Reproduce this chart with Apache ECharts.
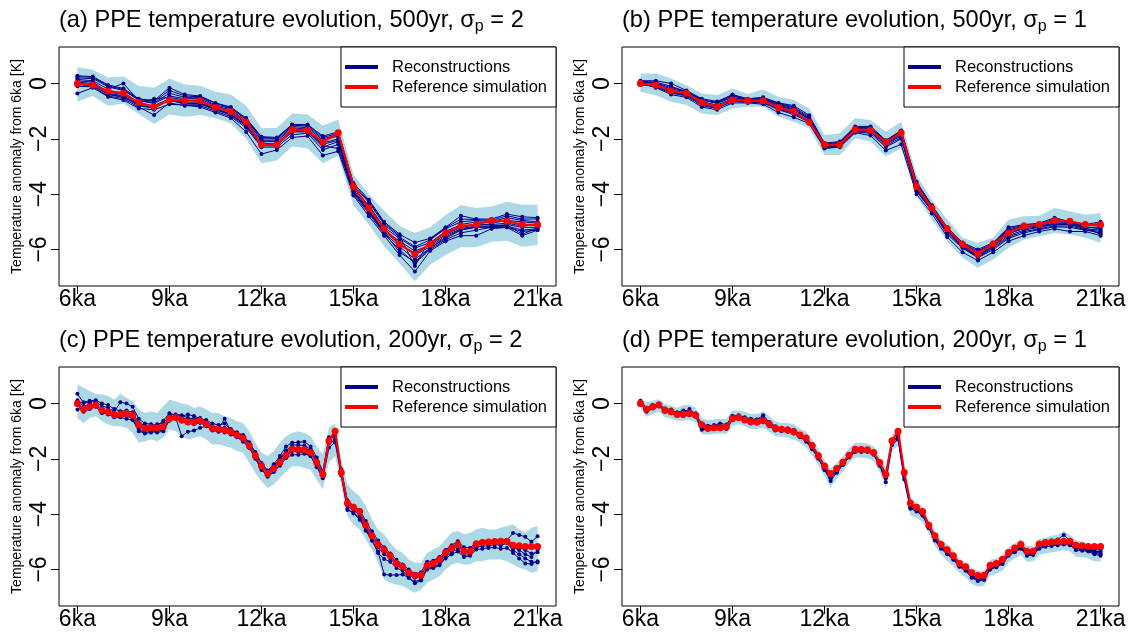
<!DOCTYPE html>
<html>
<head>
<meta charset="utf-8">
<title>PPE temperature evolution</title>
<script src="https://cdn.jsdelivr.net/npm/echarts@6/dist/echarts.min.js"></script>
<style>
  html, body { margin: 0; padding: 0; background: #fff; }
  #chart { width: 1132px; height: 633px; }
</style>
</head>
<body>
<div id="chart"></div>
<script>
// ---- time axes (ka before present) ----
const years500 = [6, 6.5, 7, 7.5, 8, 8.5, 9, 9.5, 10, 10.5, 11, 11.5, 12, 12.5, 13, 13.5, 14, 14.5, 15, 15.5, 16, 16.5, 17, 17.5, 18, 18.5, 19, 19.5, 20, 20.5, 21];
const years200 = [6, 6.2, 6.4, 6.6, 6.8, 7, 7.2, 7.4, 7.6, 7.8, 8, 8.2, 8.4, 8.6, 8.8, 9, 9.2, 9.4, 9.6, 9.8,
  10, 10.2, 10.4, 10.6, 10.8, 11, 11.2, 11.4, 11.6, 11.8, 12, 12.2, 12.4, 12.6, 12.8, 13, 13.2, 13.4, 13.6, 13.8,
  14, 14.2, 14.4, 14.6, 14.8, 15, 15.2, 15.4, 15.6, 15.8, 16, 16.2, 16.4, 16.6, 16.8, 17, 17.2, 17.4, 17.6, 17.8,
  18, 18.2, 18.4, 18.6, 18.8, 19, 19.2, 19.4, 19.6, 19.8, 20, 20.2, 20.4, 20.6, 20.8, 21];

// ---- axis ticks ----
const xTicks = [6, 9, 12, 15, 18, 21];
const yTicks = [-6, -4, -2, 0];

// ---- reference simulation (anomaly from 6ka, K) ----
const refSim500 = [0, -0.06, -0.27, -0.35, -0.69, -0.84, -0.6, -0.62, -0.62, -0.87, -1.01, -1.39, -2.21, -2.21, -1.66, -1.69,
  -2.12, -1.78, -3.72, -4.5, -5.25, -5.81, -6.16, -5.8, -5.4, -5.15, -5.1, -4.95, -4.98, -5.1, -5.11];
const refSim200 = [0, -0.21, -0.12, -0.05, -0.24, -0.3, -0.4, -0.39, -0.36, -0.42,
  -0.77, -0.89, -0.88, -0.88, -0.84, -0.54, -0.51, -0.6, -0.66, -0.67,
  -0.62, -0.74, -0.89, -0.93, -0.96, -1.02, -1.14, -1.25, -1.52, -1.89,
  -2.26, -2.53, -2.35, -2.12, -1.87, -1.65, -1.66, -1.67, -1.77, -2.13,
  -2.57, -1.35, -1.0, -2.49, -3.61, -3.75, -3.9, -4.4, -4.78, -5.1,
  -5.29, -5.5, -5.78, -5.9, -6.12, -6.22, -6.21, -5.85, -5.78, -5.64,
  -5.39, -5.22, -5.1, -5.34, -5.34, -5.08, -5.02, -5.01, -4.99, -4.98,
  -4.98, -5.12, -5.14, -5.17, -5.17, -5.17];

// ---- (a) 500yr, sigma_p = 2 ----
const reconA1 = [0.28, 0.25, -0.05, -0.18, -0.55, -0.62, -0.15, -0.4, -0.45, -0.7, -0.85, -1.25, -1.92, -1.95, -1.48, -1.48, -1.9, -1.75, -3.6, -4.2, -5.0, -5.45, -5.75, -5.6, -5.2, -4.78, -4.9, -4.9, -4.72, -4.82, -4.85];
const reconA2 = [0.2, 0.18, -0.12, -0.25, -0.6, -0.7, -0.35, -0.5, -0.5, -0.78, -0.9, -1.3, -2.0, -2.0, -1.5, -1.55, -2.0, -1.85, -3.7, -4.3, -5.1, -5.55, -5.9, -5.65, -5.25, -5.0, -4.95, -5.0, -4.85, -4.95, -5.0];
const reconA3 = [0.15, 0.1, -0.2, 0.0, -0.62, -0.72, -0.45, -0.55, -0.55, -0.82, -0.95, -1.35, -2.05, -2.05, -1.55, -1.6, -2.05, -1.9, -3.8, -4.4, -5.2, -5.6, -5.95, -5.75, -5.35, -5.1, -5.0, -5.05, -4.95, -5.0, -5.05];
const reconA4 = [0.1, 0.05, -0.3, -0.4, -0.7, -0.55, -0.5, -0.6, -0.65, -0.85, -1.05, -1.45, -2.1, -2.1, -1.6, -1.65, -2.15, -2.0, -3.85, -4.55, -5.3, -5.7, -6.05, -5.85, -5.45, -5.2, -5.1, -5.1, -5.05, -5.15, -5.1];
const reconA5 = [0.05, 0.0, -0.35, -0.45, -0.75, -0.8, -0.55, -0.7, -0.7, -0.9, -1.1, -1.5, -2.15, -2.2, -1.7, -1.7, -2.2, -2.05, -3.9, -4.6, -5.35, -5.8, -6.2, -5.9, -5.5, -5.25, -5.15, -5.15, -5.1, -5.2, -5.2];
const reconA6 = [-0.05, -0.05, -0.4, -0.5, -0.8, -0.9, -0.6, -0.75, -0.75, -0.95, -1.15, -1.55, -2.25, -2.25, -1.75, -1.75, -2.3, -2.1, -3.95, -4.65, -5.4, -5.9, -6.35, -5.95, -5.6, -5.3, -5.2, -5.2, -5.15, -5.3, -5.25];
const reconA7 = [-0.1, -0.12, -0.45, -0.55, -0.85, -1.14, -0.7, -0.8, -0.8, -1.0, -1.2, -1.6, -2.3, -2.3, -1.85, -1.8, -2.4, -2.2, -4.0, -4.7, -5.45, -6.0, -6.5, -6.0, -5.65, -5.4, -5.3, -5.2, -5.2, -5.35, -5.3];
const reconA8 = [-0.36, -0.15, -0.48, -0.6, -0.9, -0.95, -0.75, -0.78, -0.85, -1.05, -1.25, -1.75, -2.55, -2.4, -1.95, -1.9, -2.6, -2.45, -4.05, -4.8, -5.5, -6.2, -6.8, -6.05, -5.7, -5.5, -5.5, -5.25, -5.2, -5.5, -5.3];
const reconA9 = [0.25, 0.22, -0.08, -0.22, -0.58, -0.65, -0.25, -0.45, -0.48, -0.72, -0.88, -1.28, -1.95, -1.98, -1.5, -1.5, -1.95, -1.8, -3.65, -4.25, -5.05, -5.5, -6.6, -5.62, -5.22, -4.9, -4.92, -4.95, -4.78, -4.9, -4.9];
const reconA10 = [0.0, -0.1, -0.38, -0.48, -0.78, -0.88, -0.58, -0.72, -0.72, -0.92, -1.12, -1.52, -2.18, -2.18, -1.72, -1.72, -2.25, -2.35, -3.92, -4.62, -5.38, -6.1, -6.45, -5.95, -5.55, -5.28, -5.18, -5.18, -5.12, -5.45, -5.22];
const bandUpperA = [0.6, 0.5, 0.22, 0.25, -0.08, -0.15, 0.18, -0.04, -0.08, -0.3, -0.4, -0.8, -1.62, -1.6, -1.08, -1.12, -1.52, -1.3, -3.3, -4.0, -4.6, -5.15, -5.4, -5.2, -4.75, -4.4, -4.5, -4.45, -4.27, -4.38, -4.38];
const bandLowerA = [-0.66, -0.45, -0.8, -0.72, -1.1, -1.46, -1.12, -1.2, -1.14, -1.26, -1.44, -2.0, -2.88, -2.78, -2.28, -2.34, -2.88, -2.62, -4.4, -5.1, -5.88, -6.5, -7.15, -6.55, -6.2, -5.92, -5.92, -5.72, -5.68, -5.9, -5.84];

// ---- (b) 500yr, sigma_p = 1 ----
const reconB1 = [0.1, 0.1, 0.0, -0.25, -0.55, -0.65, -0.4, -0.55, -0.5, -0.7, -0.8, -1.15, -2.15, -2.1, -1.55, -1.55, -2.05, -1.7, -3.55, -4.4, -5.2, -5.75, -6.0, -5.75, -5.2, -5.1, -5.05, -4.85, -5.0, -5.1, -5.0];
const reconB2 = [0.05, 0.0, -0.2, -0.3, -0.6, -0.7, -0.45, -0.58, -0.55, -0.75, -0.88, -1.25, -2.18, -2.15, -1.6, -1.6, -2.1, -1.75, -3.65, -4.45, -5.25, -5.8, -6.1, -5.8, -5.3, -5.15, -5.1, -4.95, -4.98, -5.15, -5.05];
const reconB3 = [0.0, -0.05, -0.25, -0.35, -0.65, -0.78, -0.55, -0.6, -0.62, -0.82, -0.95, -1.3, -2.22, -2.2, -1.65, -1.68, -2.15, -1.82, -3.75, -4.5, -5.3, -5.85, -6.2, -5.85, -5.45, -5.2, -5.15, -5.05, -5.05, -5.2, -5.2];
const reconB4 = [-0.05, -0.1, -0.3, -0.4, -0.72, -0.85, -0.6, -0.65, -0.65, -0.88, -1.05, -1.35, -2.28, -2.25, -1.7, -1.72, -2.2, -1.9, -3.85, -4.55, -5.35, -5.9, -6.25, -5.9, -5.5, -5.3, -5.2, -5.1, -5.1, -5.25, -5.3];
const reconB5 = [-0.02, -0.12, -0.35, -0.45, -0.8, -0.9, -0.65, -0.68, -0.7, -0.95, -1.12, -1.4, -2.32, -2.28, -1.75, -1.8, -2.3, -2.0, -3.9, -4.6, -5.45, -5.95, -6.3, -6.0, -5.6, -5.4, -5.28, -5.18, -5.2, -5.3, -5.4];
const reconB6 = [0.02, -0.15, -0.4, -0.5, -0.85, -0.95, -0.7, -0.7, -0.75, -1.05, -1.22, -1.45, -2.35, -2.3, -1.78, -1.88, -2.42, -2.2, -4.0, -4.7, -5.55, -6.1, -6.4, -6.1, -5.7, -5.5, -5.35, -5.25, -5.35, -5.35, -5.5];
const reconB7 = [0.05, 0.02, -0.15, -0.28, -0.6, -0.68, -0.42, -0.56, -0.52, -0.72, -0.85, -1.2, -2.2, -2.12, -1.58, -1.58, -2.08, -1.72, -3.6, -4.42, -5.22, -5.78, -6.05, -5.78, -5.25, -5.12, -5.08, -4.9, -5.0, -5.12, -5.15];
const reconB8 = [-0.04, -0.08, -0.32, -0.42, -0.75, -0.88, -0.62, -0.66, -0.68, -0.92, -1.08, -1.38, -2.3, -2.25, -1.72, -1.75, -2.25, -1.95, -3.88, -4.58, -5.4, -5.92, -6.28, -5.95, -5.55, -5.35, -5.25, -5.15, -5.15, -5.28, -5.35];
const reconB9 = [0.08, 0.05, -0.1, -0.3, -0.58, -0.72, -0.5, -0.6, -0.58, -0.78, -0.92, -1.28, -2.2, -2.18, -1.62, -1.62, -2.12, -1.8, -3.7, -4.48, -5.28, -5.82, -6.12, -5.82, -5.35, -5.18, -5.12, -5.0, -5.02, -5.18, -5.25];
const reconB10 = [0.0, -0.06, -0.28, -0.38, -0.7, -0.82, -0.58, -0.63, -0.6, -0.85, -1.0, -1.35, -2.25, -2.22, -1.68, -1.7, -2.18, -1.85, -3.8, -4.52, -5.32, -5.88, -6.22, -5.88, -5.42, -5.25, -5.18, -5.08, -5.08, -5.22, -5.45];
const bandUpperB = [0.36, 0.36, 0.18, -0.06, -0.36, -0.42, -0.18, -0.38, -0.22, -0.48, -0.6, -0.9, -1.86, -1.8, -1.26, -1.32, -1.74, -1.38, -3.3, -4.2, -4.92, -5.58, -5.76, -5.58, -4.92, -4.8, -4.78, -4.5, -4.62, -4.74, -4.68];
const bandLowerB = [-0.3, -0.42, -0.66, -0.78, -1.08, -1.14, -0.9, -0.84, -0.84, -1.2, -1.38, -1.62, -2.58, -2.58, -1.98, -2.1, -2.64, -2.34, -4.08, -4.92, -5.7, -6.3, -6.66, -6.36, -5.94, -5.64, -5.52, -5.4, -5.46, -5.58, -5.76];

// ---- (c) 200yr, sigma_p = 2 ----
const reconC1 = [0.35, 0.02, 0.05, 0.08, -0.1, -0.15, -0.3, 0.05, 0.0, -0.12,
  -0.55, -0.72, -0.75, -0.8, -0.62, -0.35, -0.42, -0.45, -0.4, -0.45,
  -0.55, -0.6, -0.72, -0.78, -0.72, -0.95, -1.05, -1.15, -1.4, -1.75,
  -2.15, -2.42, -2.2, -1.9, -1.55, -1.42, -1.4, -1.38, -1.55, -1.95,
  -2.45, -1.22, -1.15, -2.38, -3.5, -3.7, -3.85, -4.25, -4.62, -4.95,
  -5.2, -5.42, -5.65, -5.82, -6.0, -6.15, -6.1, -5.72, -5.68, -5.55,
  -5.3, -5.12, -4.98, -5.2, -5.22, -5.02, -4.98, -4.96, -4.95, -4.95,
  -4.95, -4.68, -4.75, -4.82, -5.0, -4.8];
const reconC2 = [0.12, -0.12, 0.0, -0.1, -0.2, -0.28, -0.35, -0.45, -0.4, -0.5,
  -0.85, -0.95, -0.98, -0.95, -0.9, -0.45, -0.5, -1.18, -1.02, -0.98,
  -0.88, -0.82, -0.95, -1.0, -1.05, -1.08, -1.2, -1.3, -1.6, -1.95,
  -2.35, -2.65, -2.48, -2.2, -1.92, -1.72, -1.75, -1.78, -1.9, -2.25,
  -2.65, -1.45, -1.3, -2.55, -3.85, -3.95, -4.2, -4.55, -4.95, -5.35,
  -6.18, -6.2, -6.2, -6.18, -6.3, -6.45, -6.35, -5.95, -5.92, -5.82,
  -5.55, -5.38, -5.25, -5.5, -5.45, -5.2, -5.15, -5.15, -5.1, -5.12,
  -5.05, -5.3, -5.45, -5.6, -5.72, -5.75];
const reconC3 = [-0.05, -0.3, -0.2, -0.12, -0.35, -0.38, -0.5, -0.48, -0.45, -0.55,
  -0.95, -1.05, -1.0, -1.05, -1.0, -0.62, -0.55, -0.65, -0.72, -0.75,
  -0.7, -0.8, -0.98, -1.02, -1.0, -1.12, -1.22, -1.38, -1.6, -2.0,
  -2.4, -2.62, -2.45, -2.25, -1.98, -1.85, -1.85, -1.82, -1.9, -2.3,
  -2.7, -1.6, -1.4, -2.6, -3.8, -3.98, -4.1, -4.6, -4.95, -5.4,
  -5.62, -5.72, -5.95, -6.05, -6.3, -6.5, -6.4, -6.0, -5.95, -5.85,
  -5.6, -5.45, -5.35, -5.55, -5.5, -5.28, -5.25, -5.22, -5.2, -5.25,
  -5.22, -5.4, -5.6, -5.78, -5.8, -5.7];
const reconC4 = [-0.22, -0.15, -0.18, 0.05, -0.3, -0.4, -0.45, -0.5, -0.55, -0.6,
  -1.0, -1.08, -1.05, -1.0, -0.95, -0.55, -0.48, -0.5, -0.58, -0.6,
  -0.6, -0.72, -0.85, -0.9, -0.55, -1.0, -1.1, -1.2, -1.48, -1.82,
  -2.28, -2.5, -2.3, -2.05, -1.75, -1.58, -1.6, -1.62, -1.7, -2.1,
  -2.6, -1.3, -1.2, -2.45, -3.7, -3.85, -4.0, -4.5, -4.85, -5.2,
  -5.45, -5.6, -5.85, -5.95, -6.2, -6.3, -6.25, -5.85, -5.8, -5.72,
  -5.45, -5.28, -5.15, -5.38, -5.4, -5.12, -5.08, -5.05, -5.05, -5.02,
  -5.0, -5.2, -5.3, -5.45, -5.55, -5.3];
const reconC5 = [0.02, 0.05, 0.1, 0.12, 0.0, -0.05, -0.2, -0.28, -0.25, -0.32,
  -0.7, -0.8, -0.82, -0.75, -0.72, -0.42, -0.4, -0.42, -0.52, -0.55,
  -0.52, -0.65, -0.82, -0.85, -0.88, -0.92, -1.05, -1.15, -1.45, -1.8,
  -2.2, -2.45, -2.25, -2.0, -1.7, -1.5, -1.5, -1.52, -1.65, -2.05,
  -2.5, -1.25, -1.05, -2.4, -3.55, -3.78, -3.92, -4.35, -4.72, -5.05,
  -5.3, -5.5, -5.75, -5.88, -6.08, -6.2, -6.18, -5.82, -5.75, -5.62,
  -5.38, -5.2, -5.05, -5.28, -5.3, -5.05, -5.0, -5.0, -4.98, -4.98,
  -4.98, -5.15, -5.2, -5.3, -5.42, -5.38];
const bandUpperC = [0.69, 0.57, 0.45, 0.35, 0.33, 0.27, 0.14, 0.36, 0.2, 0.08,
  -0.22, -0.34, -0.28, -0.34, -0.1, 0.14, 0.08, 0.0, -0.04, -0.16,
  -0.1, -0.22, -0.34, -0.34, -0.46, -0.52, -0.64, -0.7, -1.0, -1.42,
  -1.78, -1.9, -1.72, -1.42, -1.18, -1.06, -1.0, -1.06, -1.18, -1.54,
  -1.84, -0.88, -0.72, -2.02, -2.93, -3.17, -3.35, -3.71, -4.19, -4.55,
  -4.73, -5.04, -5.28, -5.4, -5.64, -5.76, -5.76, -5.4, -5.28, -5.16,
  -4.92, -4.67, -4.61, -4.73, -4.67, -4.55, -4.49, -4.55, -4.55, -4.49,
  -4.43, -4.37, -4.55, -4.67, -4.49, -4.43];
const bandLowerC = [-0.52, -0.7, -0.52, -0.46, -0.64, -0.76, -0.82, -0.82, -0.88, -1.06,
  -1.42, -1.36, -1.3, -1.36, -1.24, -0.94, -1.0, -1.18, -1.3, -1.24,
  -1.18, -1.3, -1.48, -1.48, -1.54, -1.6, -1.72, -1.78, -2.14, -2.51,
  -2.81, -3.05, -2.93, -2.69, -2.45, -2.27, -2.27, -2.33, -2.39, -2.75,
  -3.11, -2.14, -1.9, -2.99, -4.07, -4.37, -4.55, -4.92, -5.28, -5.76,
  -6.36, -6.48, -6.54, -6.6, -6.72, -6.84, -6.72, -6.48, -6.36, -6.24,
  -6.0, -5.82, -5.76, -5.82, -5.82, -5.7, -5.7, -5.64, -5.64, -5.64,
  -5.7, -5.82, -5.94, -6.0, -6.12, -6.06];

// ---- (d) 200yr, sigma_p = 1 ----
const reconD1 = [0.1, -0.15, -0.1, 0.0, -0.18, -0.22, -0.35, -0.32, -0.2, -0.38,
  -0.72, -0.82, -0.8, -0.78, -0.8, -0.45, -0.48, -0.55, -0.6, -0.58,
  -0.42, -0.68, -0.85, -0.9, -0.9, -0.95, -1.1, -1.22, -1.5, -1.85,
  -2.3, -2.62, -2.4, -2.15, -1.85, -1.62, -1.62, -1.65, -1.75, -2.15,
  -2.62, -1.4, -1.2, -2.55, -3.62, -3.8, -3.95, -4.42, -4.82, -5.15,
  -5.32, -5.55, -5.82, -5.98, -6.2, -6.3, -6.28, -5.9, -5.82, -5.7,
  -5.42, -5.3, -5.15, -5.4, -5.4, -5.12, -5.05, -4.95, -4.92, -4.75,
  -4.95, -5.15, -5.2, -5.25, -5.3, -5.28];
const reconD2 = [0.02, -0.3, -0.18, -0.1, -0.3, -0.35, -0.42, -0.45, -0.42, -0.48,
  -0.95, -0.95, -0.92, -0.9, -0.92, -0.6, -0.55, -0.62, -0.72, -0.72,
  -0.68, -0.82, -0.98, -1.0, -1.02, -1.08, -1.22, -1.38, -1.65, -2.0,
  -2.4, -2.8, -2.5, -2.2, -1.95, -1.75, -1.75, -1.75, -1.85, -2.25,
  -2.85, -1.5, -1.3, -2.75, -3.8, -3.9, -4.05, -4.5, -4.95, -5.25,
  -5.45, -5.65, -5.9, -6.05, -6.3, -6.42, -6.38, -6.0, -5.92, -5.8,
  -5.5, -5.38, -5.25, -5.5, -5.48, -5.25, -5.18, -5.15, -5.12, -5.1,
  -5.12, -5.3, -5.32, -5.35, -5.45, -5.5];
const reconD3 = [-0.02, -0.22, -0.1, -0.02, -0.28, -0.28, -0.38, -0.3, -0.32, -0.4,
  -0.82, -0.85, -0.88, -0.82, -0.78, -0.5, -0.45, -0.58, -0.62, -0.64,
  -0.55, -0.72, -0.9, -0.95, -0.95, -1.0, -1.15, -1.3, -1.58, -1.95,
  -2.35, -2.7, -2.45, -2.18, -1.9, -1.7, -1.68, -1.7, -1.82, -2.2,
  -2.68, -1.45, -1.22, -2.6, -3.75, -3.85, -4.0, -4.48, -4.88, -5.2,
  -5.4, -5.6, -5.88, -6.0, -6.25, -6.35, -6.32, -5.95, -5.88, -5.75,
  -5.45, -5.32, -5.2, -5.45, -5.42, -5.18, -5.1, -5.08, -5.02, -5.0,
  -5.02, -5.22, -5.25, -5.3, -5.38, -5.4];
const reconD4 = [0.0, -0.25, -0.15, -0.08, -0.22, -0.32, -0.4, -0.42, -0.38, -0.45,
  -0.9, -0.9, -0.85, -0.88, -0.85, -0.52, -0.52, -0.6, -0.68, -0.7,
  -0.65, -0.78, -0.95, -0.98, -0.98, -1.05, -1.18, -1.32, -1.62, -1.98,
  -2.38, -2.68, -2.48, -2.22, -1.92, -1.72, -1.72, -1.72, -1.8, -2.22,
  -2.7, -1.5, -1.28, -2.65, -3.78, -3.88, -4.05, -4.5, -4.92, -5.22,
  -5.42, -5.62, -5.88, -6.02, -6.28, -6.38, -6.35, -5.98, -5.9, -5.78,
  -5.48, -5.35, -5.22, -5.48, -5.45, -5.22, -5.12, -5.1, -5.08, -5.05,
  -5.08, -5.3, -5.28, -5.32, -5.42, -5.45];
const reconD5 = [0.05, -0.18, -0.05, -0.02, -0.2, -0.25, -0.32, -0.25, -0.3, -0.35,
  -0.78, -0.8, -0.78, -0.72, -0.76, -0.45, -0.42, -0.5, -0.55, -0.58,
  -0.5, -0.68, -0.82, -0.9, -0.92, -0.98, -1.12, -1.25, -1.55, -1.9,
  -2.32, -2.58, -2.38, -2.12, -1.85, -1.65, -1.65, -1.68, -1.78, -2.18,
  -2.62, -1.42, -1.15, -2.55, -3.68, -3.8, -3.92, -4.45, -4.85, -5.18,
  -5.35, -5.58, -5.85, -5.98, -6.22, -6.32, -6.3, -5.92, -5.85, -5.72,
  -5.42, -5.3, -5.18, -5.42, -5.42, -5.15, -5.08, -5.05, -5.0, -4.98,
  -5.0, -5.18, -5.22, -5.28, -5.35, -5.35];
const bandUpperD = [0.2, 0.05, 0.1, 0.15, -0.02, -0.08, -0.15, -0.05, -0.05, -0.15,
  -0.52, -0.6, -0.58, -0.55, -0.55, -0.25, -0.25, -0.3, -0.38, -0.38,
  -0.28, -0.45, -0.65, -0.7, -0.7, -0.75, -0.9, -1.02, -1.3, -1.65,
  -2.05, -2.35, -2.15, -1.9, -1.62, -1.42, -1.42, -1.45, -1.55, -1.92,
  -2.35, -1.15, -0.85, -2.3, -3.42, -3.58, -3.7, -4.2, -4.6, -4.92,
  -5.1, -5.32, -5.6, -5.75, -5.95, -6.05, -6.05, -5.65, -5.6, -5.45,
  -5.2, -5.05, -4.9, -5.15, -5.15, -4.9, -4.85, -4.78, -4.75, -4.6,
  -4.75, -4.95, -5.0, -5.05, -5.1, -5.05];
const bandLowerD = [-0.15, -0.48, -0.38, -0.3, -0.5, -0.55, -0.62, -0.62, -0.6, -0.68,
  -1.12, -1.12, -1.1, -1.08, -1.1, -0.8, -0.75, -0.82, -0.92, -0.92,
  -0.88, -1.02, -1.18, -1.2, -1.22, -1.3, -1.42, -1.58, -1.88, -2.22,
  -2.62, -3.02, -2.72, -2.45, -2.15, -1.95, -1.95, -1.98, -2.08, -2.48,
  -3.05, -1.72, -1.52, -2.95, -4.05, -4.12, -4.28, -4.72, -5.15, -5.48,
  -5.68, -5.88, -6.12, -6.28, -6.52, -6.62, -6.6, -6.22, -6.15, -6.05,
  -5.75, -5.6, -5.48, -5.72, -5.7, -5.48, -5.42, -5.38, -5.35, -5.3,
  -5.35, -5.55, -5.55, -5.6, -5.7, -5.72];

// ---- drawing ----
const FONT = '"Liberation Sans", Arial, Helvetica, sans-serif';
const NAVY = '#00008B';
const RED = '#FF0000';
const BAND = '#ADD8E6';
const PLOT_W = 497, PLOT_H = 239, PAGE_W = 1132;

const panels = [
  { tag: '(a)', res: '500yr', sigma: '2', left: 59, top: 47, years: years500, ref: refSim500,
    recon: [reconA1, reconA2, reconA3, reconA4, reconA5, reconA6, reconA7, reconA8, reconA9, reconA10],
    upper: bandUpperA, lower: bandLowerA },
  { tag: '(b)', res: '500yr', sigma: '1', left: 622, top: 47, years: years500, ref: refSim500,
    recon: [reconB1, reconB2, reconB3, reconB4, reconB5, reconB6, reconB7, reconB8, reconB9, reconB10],
    upper: bandUpperB, lower: bandLowerB },
  { tag: '(c)', res: '200yr', sigma: '2', left: 59, top: 367, years: years200, ref: refSim200,
    recon: [reconC1, reconC2, reconC3, reconC4, reconC5],
    upper: bandUpperC, lower: bandLowerC },
  { tag: '(d)', res: '200yr', sigma: '1', left: 622, top: 367, years: years200, ref: refSim200,
    recon: [reconD1, reconD2, reconD3, reconD4, reconD5],
    upper: bandUpperD, lower: bandLowerD }
];

const pair = (xs, ys) => xs.map((x, k) => [x, ys[k]]);
const minus = v => (v < 0 ? '\u2212' + Math.abs(v) : String(v));

const option = {
  animation: false,
  backgroundColor: '#fff',
  title: [], grid: [], xAxis: [], yAxis: [], legend: [], series: []
};

panels.forEach((p, i) => {
  option.grid.push({
    left: p.left, top: p.top, width: PLOT_W, height: PLOT_H,
    show: true, borderColor: '#000', borderWidth: 1, backgroundColor: 'transparent'
  });

  option.title.push({
    text: '{m|' + p.tag + ' PPE temperature evolution, ' + p.res + ', \u03c3}{s|p}{m| = ' + p.sigma + '}',
    left: p.left, top: p.top - 42, padding: 0,
    textStyle: {
      fontWeight: 'normal',
      rich: {
        m: { fontSize: 23.6, fontFamily: FONT, fontWeight: 'normal', color: '#000', lineHeight: 30 },
        s: { fontSize: 16, fontFamily: FONT, fontWeight: 'normal', color: '#000', lineHeight: 14, verticalAlign: 'bottom' }
      }
    }
  });

  option.xAxis.push({
    type: 'value', gridIndex: i, min: 5.4, max: 21.6,
    axisLine: { show: false, onZero: false },
    splitLine: { show: false },
    axisTick: { show: true, customValues: xTicks, length: 8, lineStyle: { color: '#000', width: 1 } },
    axisLabel: {
      customValues: xTicks, formatter: v => v + 'ka', margin: 2,
      fontSize: 23, fontFamily: FONT, color: '#000'
    }
  });

  option.yAxis.push({
    type: 'value', gridIndex: i, min: -7.32, max: 1.32,
    name: 'Temperature anomaly from 6ka [K]', nameLocation: 'middle', nameGap: 35,
    nameTextStyle: { fontSize: 14, fontFamily: FONT, color: '#000' },
    axisLine: { show: false, onZero: false },
    splitLine: { show: false },
    axisTick: { show: true, customValues: yTicks, length: 8, lineStyle: { color: '#000', width: 1 } },
    axisLabel: {
      customValues: yTicks, formatter: minus, rotate: 90, margin: 8,
      fontSize: 23, fontFamily: FONT, color: '#000'
    }
  });

  option.legend.push({
    orient: 'vertical', right: PAGE_W - (p.left + PLOT_W), top: p.top,
    selectedMode: false,
    icon: 'rect', itemWidth: 33, itemHeight: 4, itemGap: 0,
    padding: [10, 9, 10, 4],
    borderColor: '#000', borderWidth: 1, borderRadius: 0, backgroundColor: '#fff',
    textStyle: { fontSize: 16.5, fontFamily: FONT, color: '#000', lineHeight: 20, padding: [0, 0, 0, 9] },
    data: [
      { name: 'Reconstructions', itemStyle: { color: NAVY } },
      { name: 'Reference simulation', itemStyle: { color: RED } }
    ],
    z: 10
  });

  // uncertainty band as one polygon: upper edge forward, lower edge back
  option.series.push({
    type: 'custom', name: 'band-' + i, xAxisIndex: i, yAxisIndex: i,
    data: p.years.map((x, k) => [x, p.lower[k], p.upper[k]]),
    encode: { x: 0, y: [1, 2] },
    silent: true, z: 1,
    renderItem: (params, api) => {
      if (params.dataIndex !== 0) return null;
      const top = p.years.map((x, k) => api.coord([x, p.upper[k]]));
      const bottom = p.years.map((x, k) => api.coord([x, p.lower[k]])).reverse();
      return { type: 'polygon', shape: { points: top.concat(bottom) }, style: { fill: BAND } };
    }
  });

  p.recon.forEach(r => {
    option.series.push({
      type: 'line', name: 'Reconstructions', xAxisIndex: i, yAxisIndex: i,
      data: pair(p.years, r), symbol: 'circle', symbolSize: 4, showAllSymbol: true,
      itemStyle: { color: NAVY }, lineStyle: { color: NAVY, width: 1 },
      silent: true, z: 3
    });
  });

  option.series.push({
    type: 'line', name: 'Reference simulation', xAxisIndex: i, yAxisIndex: i,
    data: pair(p.years, p.ref), symbol: 'circle', symbolSize: 7, showAllSymbol: true,
    itemStyle: { color: RED }, lineStyle: { color: RED, width: 2.2 },
    silent: true, z: 4
  });
});

const chart = echarts.init(document.getElementById('chart'), null, { renderer: 'canvas' });
chart.setOption(option);
</script>
</body>
</html>
